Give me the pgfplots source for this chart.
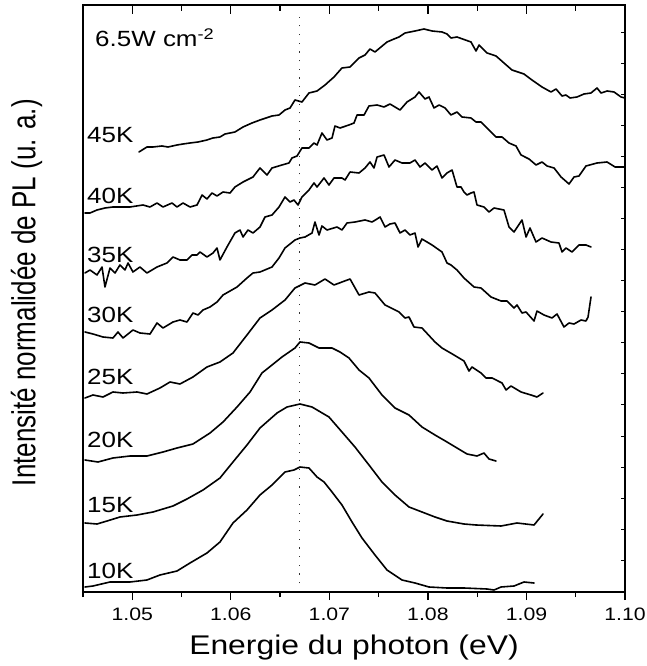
\documentclass[border=0pt]{standalone}
\usepackage{fontspec}
\setmainfont{Liberation Sans}[FakeStretch=1.18]
\newfontfamily\plainfont{Liberation Sans}
\usepackage{graphicx}
\usepackage{pgfplots}
\pgfplotsset{compat=1.18}
\begin{document}
\begin{tikzpicture}
\pgfplotsset{
  common/.style={
    at={(0,0)}, anchor=south west,
    scale only axis, width=542pt, height=587pt,
    xmin=1.045, xmax=1.10, ymin=0, ymax=587,
    axis line style={line width=1.8pt, black},
    every tick/.style={line width=1.2pt, black},
  },
  curve/.style={black, line width=1.6pt, line join=round, line cap=round},
}
\begin{axis}[common,
  xtick={1.05,1.06,1.07,1.08,1.09,1.10},
  minor xtick={1.045,1.055,1.065,1.075,1.085,1.095},
  xtick pos=bottom, ytick=\empty,
  tick align=outside,
  major tick length=8pt, minor tick length=5pt,
  /pgf/number format/assume math mode=true,
  xticklabel={\pgfmathprintnumber[fixed,fixed zerofill,precision=2]{\tick}},
  xticklabel style={font=\fontsize{18}{18}\selectfont, yshift=-4pt},
  xlabel={Energie du photon (eV)},
  xlabel style={font=\fontsize{27}{27}\selectfont, at={(axis description cs:0.5,-0.0954)}, anchor=center},
  ylabel={\scalebox{1}[1.28]{\plainfont Intensité normalidée de PL (u. a.)}},
  ylabel style={font=\fontsize{26}{26}\selectfont, at={(axis description cs:-0.104,0.51)}, anchor=center},
]
% dotted reference line
\addplot[black!80, line width=1.1pt, dash pattern=on 1.2pt off 7.5pt] coordinates {(1.067,0) (1.067,582)};

% 10K
\addplot[curve] coordinates {(1.04520,5)(1.04601,6)(1.04774,10)(1.04977,10)(1.05149,12)(1.05281,17)(1.05454,21)(1.05586,29)(1.05758,39)(1.05890,50)(1.06022,69)(1.06164,82)(1.06296,97)(1.06418,107)(1.06550,120)(1.06641,122)(1.06702,125)(1.06793,124)(1.06875,115)(1.06946,110)(1.07027,100)(1.07128,87)(1.07230,70)(1.07331,54)(1.07463,37)(1.07585,22)(1.07737,12)(1.07869,9)(1.08011,5)(1.08194,4)(1.08366,4)(1.08600,3)(1.08671,2)(1.08742,5)(1.08874,6)(1.08975,10)(1.09077,9)};

% 15K
\addplot[curve] coordinates {(1.04520,69)(1.04642,68)(1.04744,71)(1.04875,75)(1.05048,77)(1.05210,80)(1.05413,86)(1.05555,93)(1.05718,102)(1.05890,114)(1.06022,130)(1.06164,147)(1.06296,164)(1.06469,179)(1.06570,185)(1.06702,188)(1.06824,185)(1.06996,175)(1.07128,160)(1.07260,145)(1.07402,127)(1.07534,110)(1.07666,97)(1.07808,85)(1.07940,80)(1.08072,75)(1.08194,71)(1.08366,68)(1.08488,67)(1.08742,66)(1.08904,69)(1.09077,67)(1.09168,78)};

% 20K
\addplot[curve] coordinates {(1.04520,132)(1.04652,130)(1.04804,134)(1.04977,136)(1.05149,136)(1.05312,140)(1.05454,144)(1.05616,148)(1.05789,159)(1.05921,170)(1.06063,185)(1.06195,200)(1.06316,219)(1.06418,227)(1.06519,235)(1.06651,244)(1.06702,250)(1.06793,249)(1.06895,244)(1.07027,244)(1.07108,240)(1.07199,234)(1.07301,222)(1.07402,214)(1.07534,197)(1.07666,184)(1.07808,177)(1.07940,165)(1.08072,157)(1.08194,150)(1.08295,144)(1.08397,138)(1.08498,136)(1.08569,139)(1.08620,133)(1.08691,131)};

% 25K
\addplot[curve] coordinates {(1.04520,194)(1.04601,197)(1.04703,195)(1.04804,200)(1.04906,199)(1.05048,200)(1.05149,198)(1.05281,204)(1.05383,210)(1.05484,208)(1.05616,215)(1.05758,225)(1.05890,230)(1.06022,239)(1.06164,257)(1.06296,274)(1.06418,282)(1.06550,292)(1.06651,304)(1.06753,309)(1.06854,307)(1.06956,313)(1.07047,307)(1.07128,310)(1.07210,313)(1.07301,297)(1.07402,300)(1.07463,299)(1.07565,287)(1.07707,280)(1.07768,274)(1.07808,275)(1.07859,265)(1.07940,264)(1.08072,250)(1.08143,244)(1.08265,237)(1.08366,231)(1.08417,221)(1.08448,225)(1.08539,219)(1.08590,214)(1.08651,214)(1.08752,209)(1.08793,202)(1.08843,206)(1.08945,200)(1.09046,197)(1.09107,195)(1.09168,199)};

% 30K
\addplot[curve] coordinates {(1.04520,260)(1.04601,258)(1.04703,255)(1.04804,254)(1.04855,260)(1.04906,254)(1.05007,262)(1.05078,259)(1.05180,258)(1.05251,269)(1.05312,264)(1.05413,270)(1.05484,272)(1.05555,270)(1.05616,279)(1.05667,277)(1.05718,282)(1.05789,285)(1.05860,290)(1.05921,297)(1.06063,305)(1.06164,314)(1.06225,319)(1.06296,320)(1.06418,325)(1.06489,334)(1.06550,344)(1.06651,352)(1.06702,354)(1.06753,355)(1.06824,359)(1.06854,370)(1.06895,357)(1.06925,366)(1.06976,362)(1.07078,365)(1.07128,362)(1.07179,369)(1.07260,370)(1.07362,372)(1.07433,370)(1.07484,373)(1.07514,375)(1.07565,365)(1.07615,368)(1.07666,369)(1.07717,359)(1.07768,362)(1.07818,357)(1.07869,359)(1.07900,345)(1.07940,353)(1.08042,347)(1.08143,340)(1.08194,329)(1.08234,327)(1.08295,322)(1.08366,314)(1.08468,305)(1.08539,304)(1.08640,295)(1.08742,291)(1.08803,291)(1.08874,284)(1.08904,287)(1.08955,279)(1.08996,280)(1.09077,271)(1.09107,281)(1.09178,277)(1.09259,274)(1.09310,278)(1.09381,265)(1.09432,269)(1.09483,268)(1.09554,272)(1.09604,271)(1.09625,275)(1.09655,295)};

% 35K
\addplot[curve] coordinates {(1.04520,319)(1.04571,322)(1.04642,317)(1.04693,325)(1.04723,305)(1.04774,324)(1.04825,319)(1.04875,327)(1.04926,322)(1.04957,329)(1.05007,320)(1.05078,325)(1.05149,319)(1.05251,325)(1.05352,329)(1.05413,335)(1.05484,332)(1.05555,332)(1.05606,337)(1.05657,337)(1.05687,340)(1.05758,335)(1.05819,339)(1.05860,344)(1.05890,332)(1.05961,345)(1.06042,359)(1.06093,362)(1.06124,355)(1.06174,362)(1.06225,359)(1.06296,365)(1.06347,375)(1.06418,377)(1.06489,385)(1.06550,395)(1.06601,390)(1.06641,392)(1.06682,387)(1.06722,395)(1.06793,402)(1.06844,409)(1.06875,405)(1.06946,414)(1.06996,407)(1.07047,414)(1.07128,414)(1.07159,412)(1.07210,420)(1.07301,419)(1.07362,424)(1.07412,430)(1.07453,424)(1.07484,435)(1.07555,437)(1.07605,425)(1.07666,432)(1.07737,429)(1.07818,429)(1.07869,432)(1.07920,425)(1.07971,429)(1.08042,422)(1.08092,426)(1.08143,414)(1.08194,419)(1.08245,422)(1.08295,405)(1.08336,405)(1.08366,400)(1.08397,397)(1.08437,399)(1.08468,400)(1.08498,387)(1.08569,385)(1.08620,380)(1.08671,384)(1.08772,382)(1.08823,365)(1.08874,360)(1.08955,372)(1.08996,355)(1.09036,364)(1.09097,350)(1.09158,354)(1.09249,350)(1.09330,349)(1.09361,340)(1.09401,344)(1.09462,340)(1.09533,347)(1.09604,347)(1.09655,345)};

% 40K
\addplot[curve] coordinates {(1.04520,379)(1.04571,379)(1.04642,382)(1.04723,384)(1.04804,385)(1.04977,385)(1.05109,387)(1.05180,385)(1.05251,389)(1.05312,385)(1.05403,389)(1.05454,385)(1.05515,389)(1.05586,385)(1.05657,387)(1.05708,397)(1.05758,393)(1.05809,399)(1.05860,396)(1.05921,400)(1.05992,399)(1.06042,405)(1.06124,410)(1.06225,415)(1.06296,424)(1.06367,417)(1.06418,424)(1.06519,427)(1.06590,429)(1.06621,434)(1.06672,436)(1.06722,444)(1.06793,444)(1.06844,449)(1.06875,447)(1.06925,459)(1.06976,452)(1.07027,454)(1.07057,466)(1.07108,464)(1.07199,467)(1.07250,469)(1.07281,477)(1.07352,477)(1.07402,486)(1.07484,487)(1.07555,485)(1.07615,488)(1.07717,482)(1.07788,490)(1.07869,495)(1.07910,500)(1.07971,493)(1.08011,495)(1.08062,484)(1.08113,487)(1.08174,484)(1.08234,477)(1.08295,480)(1.08346,475)(1.08437,474)(1.08488,470)(1.08539,470)(1.08600,464)(1.08691,455)(1.08752,455)(1.08823,449)(1.08894,446)(1.08945,437)(1.09026,433)(1.09097,427)(1.09158,430)(1.09209,426)(1.09280,424)(1.09351,415)(1.09432,408)(1.09483,415)(1.09533,416)(1.09604,426)(1.09716,429)(1.09818,430)(1.09899,425)(1.09990,425)};

% 45K
\addplot[curve] coordinates {(1.05068,440)(1.05149,445)(1.05210,445)(1.05302,446)(1.05363,445)(1.05454,447)(1.05515,448)(1.05586,449)(1.05667,450)(1.05758,452)(1.05819,454)(1.05890,455)(1.05941,458)(1.05992,459)(1.06042,460)(1.06124,465)(1.06215,469)(1.06296,472)(1.06418,476)(1.06489,477)(1.06550,482)(1.06601,484)(1.06651,492)(1.06722,490)(1.06793,499)(1.06875,501)(1.06956,507)(1.07047,515)(1.07128,524)(1.07210,525)(1.07301,534)(1.07362,537)(1.07412,543)(1.07463,540)(1.07585,550)(1.07656,553)(1.07707,555)(1.07768,559)(1.07869,561)(1.07960,563)(1.08042,561)(1.08143,560)(1.08194,558)(1.08234,554)(1.08295,555)(1.08437,550)(1.08488,541)(1.08519,547)(1.08600,539)(1.08691,536)(1.08772,529)(1.08853,522)(1.08975,518)(1.09056,512)(1.09158,505)(1.09249,500)(1.09300,503)(1.09361,496)(1.09401,497)(1.09442,494)(1.09513,495)(1.09584,498)(1.09655,499)(1.09716,504)(1.09757,499)(1.09818,501)(1.09889,500)(1.09960,495)(1.10000,494)};

\begin{scope}[font=\fontsize{22}{22}\selectfont]
\node[anchor=base west, inner sep=0pt] at (axis cs:1.04541,14) {10K};
\node[anchor=base west, inner sep=0pt] at (axis cs:1.04541,79) {15K};
\node[anchor=base west, inner sep=0pt] at (axis cs:1.04541,144) {20K};
\node[anchor=base west, inner sep=0pt] at (axis cs:1.04541,207) {25K};
\node[anchor=base west, inner sep=0pt] at (axis cs:1.04541,269) {30K};
\node[anchor=base west, inner sep=0pt] at (axis cs:1.04541,329) {35K};
\node[anchor=base west, inner sep=0pt] at (axis cs:1.04541,388) {40K};
\node[anchor=base west, inner sep=0pt] at (axis cs:1.04541,449) {45K};
\node[anchor=base west, inner sep=0pt] at (axis cs:1.04622,545) {6.5W cm\textsuperscript{-2}};
\end{scope}
\end{axis}

% top ticks, inside
\begin{axis}[common,
  xtick={1.05,1.06,1.07,1.08,1.09,1.10},
  minor xtick={1.045,1.055,1.065,1.075,1.085,1.095},
  xtick pos=top, ytick=\empty, xticklabels={},
  tick align=inside,
  major tick length=9pt, minor tick length=6pt,
]
\end{axis}

% right ticks, inside
\begin{axis}[common,
  xtick=\empty,
  ytick={32,63,94,125,156,188,219,250,281,312,343,374,405,436,467,498,529,560},
  ytick pos=right, yticklabels={},
  tick align=inside,
  major tick length=4pt,
  every tick/.style={line width=0.8pt, black},
]
\end{axis}

\pgfresetboundingbox
\path (-83pt,-74pt) rectangle (564pt,592pt);
\end{tikzpicture}
\end{document}
